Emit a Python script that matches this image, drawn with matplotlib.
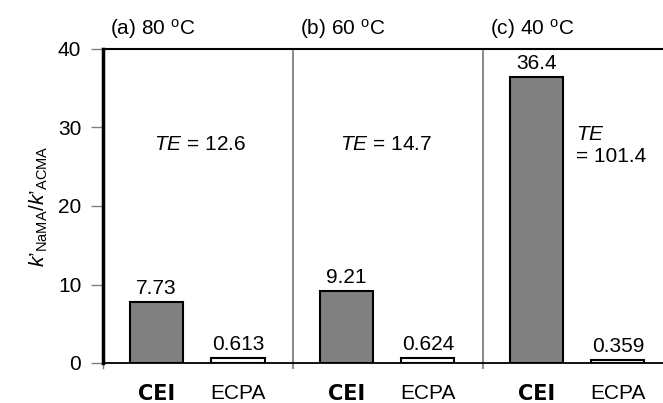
import numpy as np
import matplotlib
matplotlib.use('Agg')
import matplotlib.pyplot as plt

plt.rcParams['font.family'] = ['Liberation Sans', 'DejaVu Sans']
plt.rcParams['mathtext.fontset'] = 'custom'
plt.rcParams['mathtext.rm'] = 'Liberation Sans'
plt.rcParams['mathtext.it'] = 'Liberation Sans:italic'
plt.rcParams['mathtext.bf'] = 'Liberation Sans:bold'

# 数据
panels = ['(a) 80 $^{\\mathrm{o}}$C', '(b) 60 $^{\\mathrm{o}}$C', '(c) 40 $^{\\mathrm{o}}$C']
methods = ['CEI', 'ECPA']
cei = [7.73, 9.21, 36.4]
ecpa = [0.613, 0.624, 0.359]
te = ['12.6', '14.7', '101.4']

fs = 15
fig = plt.figure(figsize=(6.63, 4.03), dpi=100)
ax = fig.add_axes([103/663, 40/403, 560/663, 314/403])

# 每个面板宽2个单位
off = [0.56, 1.42]
w = 0.56
xc = np.arange(3) * 2
ax.bar(xc + off[0], cei, w, color='#808080', edgecolor='black', linewidth=1.5, zorder=3)
ax.bar(xc + off[1], ecpa, w, color='white', edgecolor='black', linewidth=1.5, zorder=3)

for i in range(3):
    ax.annotate(f'{cei[i]:g}', (xc[i] + off[0], cei[i]), xytext=(0, 3),
                textcoords='offset points', ha='center', va='bottom', fontsize=fs)
    ax.annotate(f'{ecpa[i]:g}', (xc[i] + off[1], ecpa[i]), xytext=(0, 3),
                textcoords='offset points', ha='center', va='bottom', fontsize=fs)
    ax.text(xc[i] + 0.07, 42.6, panels[i], ha='left', va='center', fontsize=fs, clip_on=False)

# TE 标注
ax.text(1.02, 27.8, '$\\it{TE}$ = ' + te[0], ha='center', va='center', fontsize=fs)
ax.text(2.98, 27.8, '$\\it{TE}$ = ' + te[1], ha='center', va='center', fontsize=fs)
ax.text(4.98, 27.7, '$\\it{TE}$\n= ' + te[2], ha='left', va='center', fontsize=fs, linespacing=1.15)

# 面板分隔线
for x in [2, 4]:
    ax.axvline(x, ymin=-0.016, ymax=1, color='#808080', lw=1.3, clip_on=False, zorder=2)

ax.set_xlim(0, 560/95)
ax.set_ylim(0, 40)
ax.set_yticks([0, 10, 20, 30, 40])
ax.tick_params(axis='y', length=8.6, width=1, color='#808080', pad=7, labelsize=fs)

xt = np.concatenate([xc + off[0], xc + off[1]])
xl = [methods[0]] * 3 + [methods[1]] * 3
ax.set_xticks(xt)
ax.set_xticklabels(xl)
ax.tick_params(axis='x', length=0, pad=15, labelsize=fs)
for t in ax.get_xticklabels():
    if t.get_text() == 'CEI':
        t.set_fontweight('heavy')
        t.set_family(['DejaVu Sans'])

ax.spines['right'].set_visible(False)
ax.spines['left'].set_linewidth(2.5)
ax.spines['top'].set_linewidth(1.5)
ax.spines['bottom'].set_linewidth(1.3)
ax.plot([0, 0], [0, -0.016], transform=ax.get_xaxis_transform(), color='#808080',
        lw=1, clip_on=False)

ax.set_ylabel("$\\it{k}$’$_{\\mathrm{NaMA}}$/$\\it{k}$’$_{\\mathrm{ACMA}}$", fontsize=fs, labelpad=6)

plt.savefig('out.png', dpi=100)
